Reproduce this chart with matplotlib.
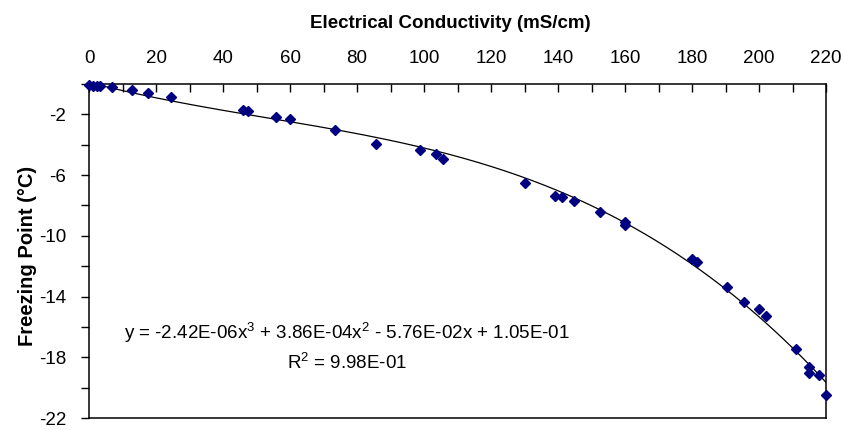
import numpy as np
import matplotlib
matplotlib.use("Agg")
import matplotlib.pyplot as plt
from matplotlib.ticker import MultipleLocator, FuncFormatter

plt.rcParams['font.family'] = ['Liberation Sans', 'DejaVu Sans']
plt.rcParams['mathtext.fontset'] = 'custom'
plt.rcParams['mathtext.rm'] = 'Liberation Sans'
plt.rcParams['mathtext.it'] = 'Liberation Sans'
plt.rcParams['mathtext.bf'] = 'Liberation Sans:bold'

# Measured samples: conductivity (mS/cm) vs freezing point (°C)
conductivity = [0.0, 1.3, 2.3, 3.3, 6.9, 12.9, 17.6, 24.4, 46.0, 47.4, 55.7, 60.1,
                73.4, 85.7, 98.9, 103.5, 105.7, 130.1, 139.1, 141.1, 144.8, 152.5,
                160.1, 160.1, 180.1, 181.4, 190.5, 195.6, 199.9, 202.2, 211.0,
                215.0, 215.0, 217.8, 220.0]
freezing_point = [-0.05, -0.12, -0.15, -0.15, -0.22, -0.40, -0.57, -0.86, -1.69, -1.78,
                  -2.15, -2.31, -3.03, -3.93, -4.35, -4.63, -4.92, -6.50, -7.36, -7.47,
                  -7.73, -8.41, -9.09, -9.31, -11.50, -11.75, -13.35, -14.34, -14.84,
                  -15.28, -17.44, -18.66, -19.02, -19.17, -20.49]

# Cubic trend line coefficients (highest order first)
trend_coeffs = [-2.42e-06, 3.86e-04, -5.76e-02, 1.05e-01]
r_squared = 0.998

y_tick_labels = [-2, -6, -10, -14, -18, -22]

fig = plt.figure(figsize=(8.44, 4.30), dpi=100)
ax = fig.add_axes([0.1055, 0.0279, 0.8732, 0.7768])

xs = np.linspace(0, 220, 400)
ax.plot(xs, np.polyval(trend_coeffs, xs), color='black', lw=0.9, zorder=2)
ax.plot(conductivity, freezing_point, linestyle='none', marker='D',
        markersize=4.8, color='#000080', markeredgecolor='#000080',
        clip_on=False, zorder=3)

ax.set_xlim(0, 220)
ax.set_ylim(-22, 0)

ax.xaxis.tick_top()
ax.xaxis.set_label_position('top')
ax.xaxis.set_major_locator(MultipleLocator(20))
ax.xaxis.set_minor_locator(MultipleLocator(10))
ax.tick_params(axis='x', which='major', direction='in', length=6, width=1,
               pad=12, labelsize=13.5)
ax.tick_params(axis='x', which='minor', direction='in', length=6, width=1)

ax.yaxis.set_major_locator(MultipleLocator(2))
ax.yaxis.set_major_formatter(FuncFormatter(
    lambda v, p: f"{int(round(v))}" if int(round(v)) in y_tick_labels else ""))
ax.tick_params(axis='y', which='major', direction='out', length=5.5, width=1,
               pad=11, labelsize=13.5)

for s in ax.spines.values():
    s.set_color('black')
    s.set_linewidth(1.1)

ax.set_xlabel('Electrical Conductivity (mS/cm)', fontsize=13.5,
              fontweight='bold')
ax.xaxis.set_label_coords(0.4898, 1.168)
ax.set_ylabel('Freezing Point (°C)', fontsize=14.5, fontweight='bold')
ax.yaxis.set_label_coords(-0.0706, 0.485)

a, b, c, d = trend_coeffs
eq = f"y = {a:.2E}x$^3$ + {b:.2E}x$^2$ - {abs(c):.2E}x + {d:.2E}"
ax.text(0.35, 0.254, eq, transform=ax.transAxes, ha='center', va='center',
        fontsize=13.5)
ax.text(0.35, 0.165, f"R$^2$ = {r_squared:.2E}", transform=ax.transAxes,
        ha='center', va='center', fontsize=13.5)

fig.savefig('out.png', dpi=100)
